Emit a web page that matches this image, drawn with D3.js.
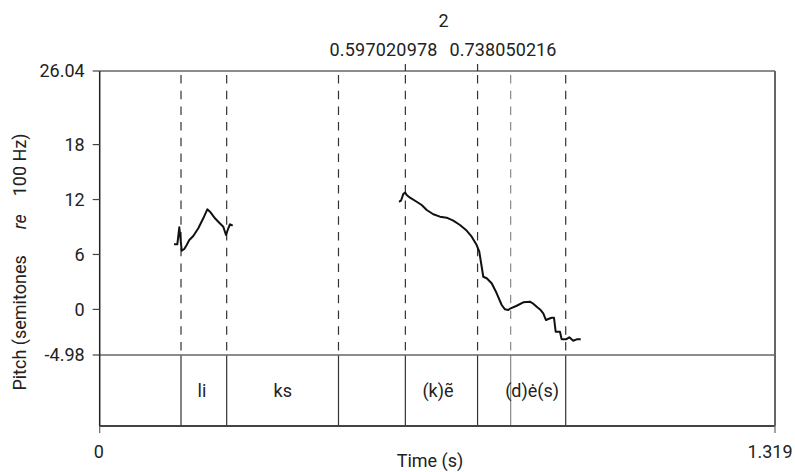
<!DOCTYPE html>
<html>
<head>
<meta charset="utf-8">
<script src="https://cdn.jsdelivr.net/npm/d3@7"></script>
<style>
  body { margin: 0; background: #fff; }
  svg { font-family: Roboto, "Liberation Sans", sans-serif; }
</style>
</head>
<body>
<svg id="pitch-chart" width="795" height="472"></svg>
<script>
// pitch contours (time in s, semitones re 100 Hz)
const contourLi = [
    [0.1451, 7.11], [0.1516, 7.11], [0.1555, 8.97], [0.1602, 6.41], [0.1652, 6.60],
    [0.1699, 7.03], [0.1750, 7.58], [0.1828, 8.02], [0.1926, 8.86], [0.2023, 9.95],
    [0.2102, 10.93], [0.2154, 10.67], [0.2252, 9.95], [0.2316, 9.58], [0.2414, 9.03],
    [0.2467, 8.13], [0.2512, 8.86], [0.2545, 9.30], [0.2598, 9.14]
];
const contourKe = [
    [0.5846, 11.76], [0.5885, 11.87], [0.5930, 12.61], [0.5969, 12.75], [0.5996, 12.50],
    [0.6061, 12.20], [0.6191, 11.76], [0.6289, 11.40], [0.6387, 10.86], [0.6516, 10.39],
    [0.6646, 10.13], [0.6777, 10.02], [0.6906, 9.69], [0.7037, 9.22], [0.7154, 8.68],
    [0.7266, 7.94], [0.7363, 7.03], [0.7414, 6.30], [0.7461, 4.66], [0.7492, 3.57],
    [0.7559, 3.40], [0.7656, 2.85], [0.7754, 1.76], [0.7852, 0.48], [0.7916, 0.01],
    [0.7980, -0.07], [0.8027, 0.12], [0.8145, 0.40], [0.8273, 0.78], [0.8404, 0.84],
    [0.8457, 0.67], [0.8547, 0.23], [0.8613, -0.07], [0.8664, -0.43], [0.8717, -1.16],
    [0.8762, -1.05], [0.8828, -0.91], [0.8873, -0.91], [0.8906, -2.44], [0.8990, -2.44],
    [0.9023, -3.27], [0.9107, -3.27], [0.9172, -3.05], [0.9250, -3.42], [0.9316, -3.27],
    [0.9395, -3.27]
];

// segment boundaries (s)
const boundaries = [0.1588, 0.2480, 0.4664, 0.597020978, 0.738050216, 0.8027, 0.9102];
const boundaryGray = [false, false, false, false, false, true, false];

// tier labels
const tierLabels = ["li", "ks", "(k)ẽ", "(d)ė(s)"];
const tierLabelTimes = [0.1998, 0.3575, 0.6607, 0.8445];

// axis ticks
const yTicks = [-4.98, 0, 6, 12, 18, 26.04];
const xTicks = [0, 1.319];
const topMarks = [0.597020978, 0.738050216];
const topMarkLabels = ["0.597020978", "0.738050216"];
const topSpanLabel = "2";

const svg = d3.select("#pitch-chart");
const textColor = "#222";

// scales
const x = d3.scaleLinear().domain([0, 1.319]).range([99.7, 775]);
const y = d3.scaleLinear().domain([-4.98, 26.04]).range([355, 71]);
const tierBottom = 426;

// dashed boundary lines in the pitch panel
svg.append("g").selectAll("line")
    .data(boundaries)
    .join("line")
    .attr("x1", d => x(d)).attr("x2", d => x(d))
    .attr("y1", y(26.04) + 4).attr("y2", y(-4.98))
    .attr("stroke", (d, i) => boundaryGray[i] ? "#888" : "#333")
    .attr("stroke-width", 1.2)
    .attr("stroke-dasharray", "8.5,7.2");

// solid boundary lines in the tier
svg.append("g").selectAll("line")
    .data(boundaries)
    .join("line")
    .attr("x1", d => x(d)).attr("x2", d => x(d))
    .attr("y1", y(-4.98)).attr("y2", tierBottom)
    .attr("stroke", (d, i) => boundaryGray[i] ? "#888" : "#333")
    .attr("stroke-width", 1.2);

// frame
svg.append("line") // top
    .attr("x1", x(0)).attr("x2", x(1.319)).attr("y1", y(26.04)).attr("y2", y(26.04))
    .attr("stroke", "#666").attr("stroke-width", 1.5);
svg.append("line") // tier top
    .attr("x1", x(0)).attr("x2", x(1.319)).attr("y1", y(-4.98)).attr("y2", y(-4.98))
    .attr("stroke", "#666").attr("stroke-width", 1.5);
svg.append("line") // bottom
    .attr("x1", x(0)).attr("x2", x(1.319)).attr("y1", tierBottom).attr("y2", tierBottom)
    .attr("stroke", "#444").attr("stroke-width", 2);
svg.append("line") // right
    .attr("x1", x(1.319)).attr("x2", x(1.319)).attr("y1", y(26.04)).attr("y2", tierBottom)
    .attr("stroke", "#666").attr("stroke-width", 2);
svg.append("line") // left axis
    .attr("x1", x(0)).attr("x2", x(0)).attr("y1", y(26.04)).attr("y2", tierBottom)
    .attr("stroke", "#222").attr("stroke-width", 1.5);

// y axis ticks and labels
const yAxis = svg.append("g");
yAxis.selectAll("line")
    .data(yTicks)
    .join("line")
    .attr("x1", x(0) - 7).attr("x2", x(0))
    .attr("y1", d => y(d)).attr("y2", d => y(d))
    .attr("stroke", "#444").attr("stroke-width", 1.2);
yAxis.selectAll("text")
    .data(yTicks)
    .join("text")
    .attr("x", x(0) - 15)
    .attr("y", d => y(d))
    .attr("dy", "0.36em")
    .attr("text-anchor", "end")
    .attr("font-size", 18)
    .attr("fill", textColor)
    .text(d => d);

// x axis ticks and labels
const xAxis = svg.append("g");
xAxis.selectAll("line")
    .data(xTicks)
    .join("line")
    .attr("x1", d => x(d)).attr("x2", d => x(d))
    .attr("y1", tierBottom).attr("y2", tierBottom + 7)
    .attr("stroke", "#666").attr("stroke-width", 1.2);
xAxis.selectAll("text")
    .data(xTicks)
    .join("text")
    .attr("x", (d, i) => x(d) + (i === 0 ? -1 : -5))
    .attr("y", 458)
    .attr("text-anchor", "middle")
    .attr("font-size", 18)
    .attr("fill", textColor)
    .text(d => d);

svg.append("text")
    .attr("x", 430).attr("y", 467)
    .attr("text-anchor", "middle")
    .attr("font-size", 18)
    .attr("fill", textColor)
    .text("Time (s)");

// top marks for the selected interval
svg.append("g").selectAll("line")
    .data(topMarks)
    .join("line")
    .attr("x1", d => x(d)).attr("x2", d => x(d))
    .attr("y1", y(26.04) - 7).attr("y2", y(26.04))
    .attr("stroke", "#333").attr("stroke-width", 1.2);
const xm = x((topMarks[0] + topMarks[1]) / 2);
svg.append("text")
    .attr("x", xm - 4).attr("y", 55.5)
    .attr("text-anchor", "end")
    .attr("font-size", 18).attr("fill", textColor)
    .attr("textLength", 108)
    .text(topMarkLabels[0]);
svg.append("text")
    .attr("x", xm + 8).attr("y", 55.5)
    .attr("text-anchor", "start")
    .attr("font-size", 18).attr("fill", textColor)
    .attr("textLength", 107)
    .text(topMarkLabels[1]);
svg.append("text")
    .attr("x", xm + 2).attr("y", 26.5)
    .attr("text-anchor", "middle")
    .attr("font-size", 18).attr("fill", textColor)
    .text(topSpanLabel);

// tier labels
svg.append("g").selectAll("text")
    .data(tierLabels)
    .join("text")
    .attr("x", (d, i) => x(tierLabelTimes[i]))
    .attr("y", (y(-4.98) + tierBottom) / 2)
    .attr("dy", "0.36em")
    .attr("text-anchor", "middle")
    .attr("font-size", 18)
    .attr("fill", textColor)
    .text(d => d);

// pitch contours
const line = d3.line().x(d => x(d[0])).y(d => y(d[1]));
[contourLi, contourKe].forEach(c => {
    svg.append("path")
        .datum(c)
        .attr("d", line)
        .attr("fill", "none")
        .attr("stroke", "#111")
        .attr("stroke-width", 2)
        .attr("stroke-linejoin", "round");
});

// y axis title
const yTitle = svg.append("text")
    .attr("transform", "translate(26,262) rotate(-90)")
    .attr("text-anchor", "middle")
    .attr("font-size", 18)
    .attr("fill", textColor);
yTitle.append("tspan").text("Pitch (semitones");
yTitle.append("tspan").attr("dx", 26).attr("font-style", "italic").text("re");
yTitle.append("tspan").attr("dx", 18).text("100 Hz)");
</script>
</body>
</html>
